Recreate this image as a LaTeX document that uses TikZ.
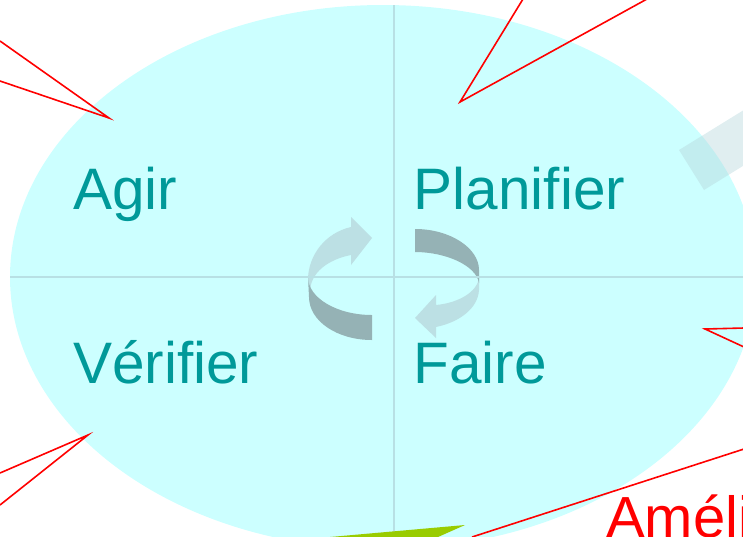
\documentclass[tikz,border=0pt]{standalone}
\usepackage{fontspec}
\setmainfont{Liberation Sans}
\definecolor{ellcol}{HTML}{CCFFFF}
\definecolor{gridcol}{HTML}{B8E0E4}
\definecolor{labtext}{HTML}{009999}
\definecolor{arrlight}{HTML}{BCE0E4}
\definecolor{arrdark}{HTML}{95B2B5}
\definecolor{barcol}{RGB}{183,215,220}
\definecolor{greencol}{HTML}{99CC00}
\begin{document}
\begin{tikzpicture}[x=1pt,y=-1pt,
  lab/.style={inner sep=0pt, anchor=base west, text=labtext, font=\fontsize{58.5}{60}\selectfont},
  redlab/.style={inner sep=0pt, anchor=base west, text=red, font=\fontsize{58}{60}\selectfont},
  gridline/.style={draw=gridcol, line width=2pt},
  callout/.style={draw=red, line width=1.6pt, line join=miter},
  lightpart/.style={fill=arrlight},
  darkpart/.style={fill=arrdark}]
\useasboundingbox (0,0) rectangle (743,536);
\clip (0,0) rectangle (743,536);
% big ellipse
\fill[ellcol] (383,277) ellipse [x radius=373pt, y radius=272pt];
% left cycle arrow
\path[lightpart] (308,278) .. controls (309,255) and (325,233) .. (351,227)
  -- (351,217) -- (372,238) -- (351,265) -- (351,255)
  .. controls (335,258) and (312,268) .. (310,290) -- cycle;
\path[darkpart] (308,277) .. controls (308,298) and (337,315) .. (372,315)
  -- (372,340) .. controls (337,340) and (309,321) .. (309,297) -- cycle;
% right cycle arrow
\path[lightpart] (479,277) .. controls (478,292) and (458,303) .. (436,305)
  -- (436,295) -- (415,318) -- (436,338) -- (436,327)
  .. controls (460,322) and (478,308) .. (479,290) -- cycle;
\path[darkpart] (415,229) .. controls (450,229) and (479,248) .. (479,270)
  -- (479,283) .. controls (476,265) and (445,252) .. (415,252) -- cycle;
% grid lines
\coordinate (vt) at (394,5);
\coordinate (vb) at (394,536);
\coordinate (hl) at (10,277);
\coordinate (hr) at (743,277);
\draw[gridline] (vt) -- (vb);
\draw[gridline] (hl) -- (hr);
% translucent bar top right
\fill[barcol, fill opacity=0.43] (679,150) -- (760,100) -- (785,140) -- (704,190) -- cycle;
% green shape at bottom
\fill[greencol] (330,537) -- (465,525) -- (438,537) -- cycle;
% labels
\node[lab] (agir) at (73,209) {Agir};
\node[lab] (plan) at (413.5,209) {Planifier};
\node[lab] (verif) at (73,383) {Vérifier};
\node[lab] (faire) at (413.5,383) {Faire};
\node[redlab] (amel) at (606,537) {Améli};
% red callout pointers
\coordinate (t1) at (109,118);
\draw[callout] (0,41) -- (t1) -- (0,81);
\coordinate (t2) at (460,102);
\draw[callout] (523,-1) -- (t2) -- (647,-1);
\coordinate (t3) at (705,329);
\draw[callout] (744,328) -- (t3) -- (744,347);
\coordinate (t4) at (88,435);
\draw[callout] (0,473) -- (t4) -- (0,505);
\coordinate (t5a) at (744,449);
\coordinate (t5b) at (472,537);
\draw[callout] (t5a) -- (t5b);
\end{tikzpicture}
\end{document}
